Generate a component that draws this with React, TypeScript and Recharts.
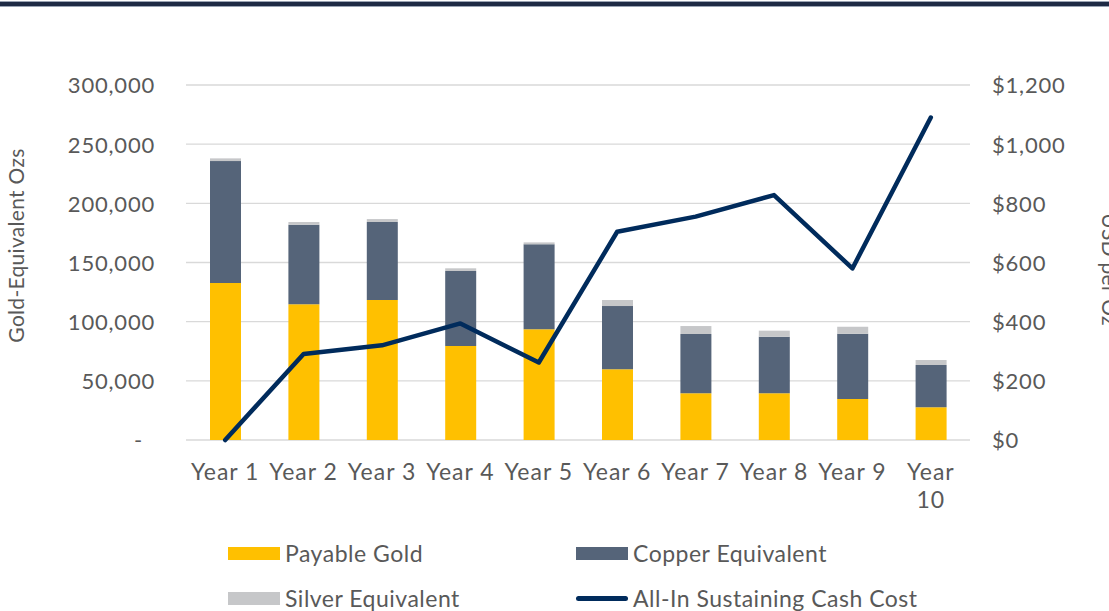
import React from 'react';
import { ComposedChart, Bar, Line, XAxis, YAxis, CartesianGrid, Legend } from 'recharts';

const years = ['Year 1', 'Year 2', 'Year 3', 'Year 4', 'Year 5', 'Year 6', 'Year 7', 'Year 8', 'Year 9', 'Year 10'];
const payableGold = [132700, 114700, 118300, 79400, 93500, 59700, 39500, 39500, 34600, 27600];
const copperEquivalent = [103000, 67200, 65900, 63400, 71900, 53500, 50100, 47800, 55200, 35800];
const silverEquivalent = [2300, 2300, 2500, 2300, 1600, 5100, 6700, 5100, 5900, 4200];
const aiscUsdPerOz = [0, 291, 320, 394, 262, 704, 755, 828, 580, 1090];
const leftTicks = [0, 50000, 100000, 150000, 200000, 250000, 300000];
const rightTicks = [0, 200, 400, 600, 800, 1000, 1200];

const data = years.map((year, i) => ({
  year,
  gold: payableGold[i],
  copper: copperEquivalent[i],
  silver: silverEquivalent[i],
  aisc: aiscUsdPerOz[i],
}));

const FONT = 'Lato, "Open Sans", sans-serif';
const TXT = '#595959';
const GOLD = '#FFC000';
const COPPER = '#556479';
const SILVER = '#C6C7C9';
const NAVY = '#002B5C';

const X_FONT_SIZE = 23;
const X_LETTER_SPACING = 1;
const X_WRAP_WIDTH = 74;

let measureCtx: CanvasRenderingContext2D | null = null;
const measure = (s: string) => {
  if (typeof document === 'undefined') return s.length * X_FONT_SIZE * 0.5;
  if (!measureCtx) measureCtx = document.createElement('canvas').getContext('2d');
  if (!measureCtx) return s.length * X_FONT_SIZE * 0.5;
  measureCtx.font = `${X_FONT_SIZE}px ${FONT}`;
  return measureCtx.measureText(s).width + s.length * X_LETTER_SPACING;
};

const LeftTick = (props: any) => {
  const { x, y, payload } = props;
  const v = payload.value as number;
  const label = v === 0 ? '-' : v.toLocaleString('en-US');
  return (
    <text x={v === 0 ? x - 12 : x} y={y} dy="0.38em" textAnchor="end" fill={TXT} fontSize={22} letterSpacing={0.8} fontFamily={FONT}>
      {label}
    </text>
  );
};

const RightTick = (props: any) => {
  const { x, y, payload } = props;
  const v = payload.value as number;
  return (
    <text x={x} y={y} dy="0.38em" textAnchor="start" fill={TXT} fontSize={22} letterSpacing={0.8} fontFamily={FONT}>
      {'$' + v.toLocaleString('en-US')}
    </text>
  );
};

const XTick = (props: any) => {
  const { x, y, payload } = props;
  const label = String(payload.value);
  const lines = measure(label) > X_WRAP_WIDTH ? label.split(' ') : [label];
  return (
    <text x={x} y={y} textAnchor="middle" fill={TXT} fontSize={X_FONT_SIZE} letterSpacing={X_LETTER_SPACING} fontFamily={FONT}>
      {lines.map((ln, i) => (
        <tspan key={i} x={x} dy={i === 0 ? '0.71em' : 28}>
          {ln}
        </tspan>
      ))}
    </text>
  );
};

const LeftTitle = (props: any) => {
  const vb = props.viewBox || {};
  const cx = vb.x + 15;
  const cy = vb.y + vb.height / 2 - 17;
  return (
    <text
      x={cx}
      y={cy}
      transform={`rotate(-90, ${cx}, ${cy})`}
      textAnchor="middle"
      dominantBaseline="central"
      fill={TXT}
      fontSize={21}
      letterSpacing={0.3}
      fontFamily={FONT}
    >
      Gold-Equivalent Ozs
    </text>
  );
};

const RightTitle = (props: any) => {
  const vb = props.viewBox || {};
  const cx = vb.x + 140;
  const cy = vb.y + vb.height / 2 + 7;
  return (
    <text
      x={cx}
      y={cy}
      transform={`rotate(90, ${cx}, ${cy})`}
      textAnchor="middle"
      dominantBaseline="central"
      fill={TXT}
      fontSize={21}
      letterSpacing={0.3}
      fontFamily={FONT}
    >
      USD per Oz
    </text>
  );
};

const legendItems = [
  { name: 'Payable Gold', color: GOLD, kind: 'rect', left: 228, top: 553 },
  { name: 'Copper Equivalent', color: COPPER, kind: 'rect', left: 576, top: 553 },
  { name: 'Silver Equivalent', color: SILVER, kind: 'rect', left: 228, top: 598 },
  { name: 'All-In Sustaining Cash Cost', color: NAVY, kind: 'line', left: 576, top: 598 },
];

const LegendContent = () => (
  <div style={{ position: 'relative', width: 1109, height: 611 }}>
    {legendItems.map((it) => (
      <div
        key={it.name}
        style={{ position: 'absolute', left: it.left, top: it.top - 15, height: 30, display: 'flex', alignItems: 'center' }}
      >
        {it.kind === 'rect' ? (
          <div style={{ width: 52, height: 13, background: it.color }} />
        ) : (
          <div style={{ width: 52, height: 5, background: it.color, borderRadius: 3 }} />
        )}
        <span
          style={{
            marginLeft: 5,
            fontSize: 23,
            letterSpacing: 0.5,
            fontFamily: FONT,
            color: TXT,
            whiteSpace: 'nowrap',
            lineHeight: '30px',
          }}
        >
          {it.name}
        </span>
      </div>
    ))}
  </div>
);

export default function App() {
  return (
    <div style={{ position: 'absolute', left: 0, top: 0, width: 1109, height: 611, background: '#fff', overflow: 'hidden' }}>
      <div style={{ position: 'absolute', left: 0, top: 1, width: 1109, height: 6, background: '#9AA3B3' }} />
      <div style={{ position: 'absolute', left: 0, top: 2, width: 1109, height: 4, background: '#1E2A44' }} />
      <ComposedChart
        width={1109}
        height={611}
        data={data}
        margin={{ top: 85, right: 0, bottom: 91, left: 0 }}
        barCategoryGap="30%"
      >
        <CartesianGrid yAxisId="left" vertical={false} stroke="#D9D9D9" strokeWidth={1.3} />
        <XAxis
          dataKey="year"
          axisLine={false}
          tickLine={false}
          tickSize={0}
          tickMargin={24}
          height={80}
          interval={0}
          tick={<XTick />}
        />
        <YAxis
          yAxisId="left"
          orientation="left"
          width={186}
          domain={[0, 300000]}
          ticks={leftTicks}
          axisLine={false}
          tickLine={false}
          tickSize={0}
          tickMargin={31}
          tick={<LeftTick />}
          label={{ content: (p: any) => <LeftTitle {...p} /> }}
        />
        <YAxis
          yAxisId="right"
          orientation="right"
          width={139}
          domain={[0, 1200]}
          ticks={rightTicks}
          axisLine={false}
          tickLine={false}
          tickSize={0}
          tickMargin={22}
          tick={<RightTick />}
          label={{ content: (p: any) => <RightTitle {...p} /> }}
        />
        <Legend
          layout="horizontal"
          verticalAlign="middle"
          align="center"
          wrapperStyle={{ position: 'absolute', left: 0, top: 0, width: 1109, height: 611, pointerEvents: 'none' }}
          content={<LegendContent />}
        />
        <Bar yAxisId="left" dataKey="gold" name="Payable Gold" stackId="a" fill={GOLD} barSize={31} isAnimationActive={false} />
        <Bar yAxisId="left" dataKey="copper" name="Copper Equivalent" stackId="a" fill={COPPER} barSize={31} isAnimationActive={false} />
        <Bar yAxisId="left" dataKey="silver" name="Silver Equivalent" stackId="a" fill={SILVER} barSize={31} isAnimationActive={false} />
        <Line
          yAxisId="right"
          dataKey="aisc"
          name="All-In Sustaining Cash Cost"
          stroke={NAVY}
          strokeWidth={4.5}
          strokeLinejoin="round"
          strokeLinecap="round"
          dot={false}
          activeDot={false}
          type="linear"
          isAnimationActive={false}
        />
      </ComposedChart>
    </div>
  );
}
